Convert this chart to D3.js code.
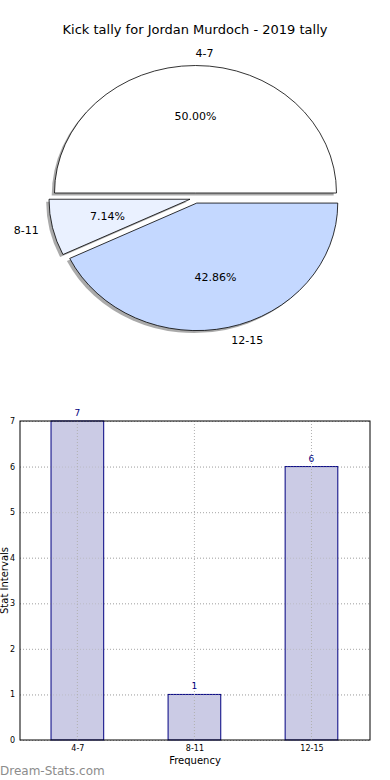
<!DOCTYPE html>
<html lang="en">
<head>
<meta charset="utf-8"/>
<title>Kick tally</title>
<script src="https://d3js.org/d3.v7.min.js"></script>
<style>
  body { margin: 0; background: #fff; }
  svg { font-family: "DejaVu Sans", sans-serif; }
  .grid line { stroke: #b0b0b0; stroke-dasharray: 1,2; }
</style>
</head>
<body>
<svg id="chart" width="390" height="780"></svg>
<script>
// data
var title = "Kick tally for Jordan Murdoch - 2019 tally";
var categories = ["4-7", "8-11", "12-15"];
var counts = [7, 1, 6];
var pieColors = ["#ffffff", "#eaf1ff", "#c4d8ff"];
var yTicks = [0, 1, 2, 3, 4, 5, 6, 7];

var svg = d3.select("#chart");

svg.append("text")
  .attr("x", 195).attr("y", 34)
  .attr("text-anchor", "middle")
  .attr("font-size", 13)
  .text(title);

//PIE
var cx = 195.5, cy = 198.1, rx = 141, ry = 127.5, explode = 0.04;
var total = d3.sum(counts);
// matplotlib style: start at 3 o'clock, counterclockwise
var pie = d3.pie().sort(null)
  .startAngle(Math.PI / 2)
  .endAngle(Math.PI / 2 - 2 * Math.PI);
var arcs = pie(counts);
var arc = d3.arc().innerRadius(0).outerRadius(1);

function offset(d, k) {
  var a = (d.startAngle + d.endAngle) / 2;
  return [Math.sin(a) * k * rx, -Math.cos(a) * k * ry];
}

var pg = svg.append("g").attr("transform", "translate(" + cx + "," + cy + ")");

// shadows first, under all wedges
pg.selectAll(".shadow")
  .data(arcs)
  .enter().append("path")
    .attr("class", "shadow")
    .attr("transform", function(d) {
      var o = offset(d, explode);
      return "translate(" + (o[0] - 2.8) + "," + (o[1] + 2.5) + ") scale(" + rx + "," + ry + ")";
    })
    .attr("d", arc)
    .attr("fill", "#555")
    .attr("opacity", 0.5);

pg.selectAll(".wedge")
  .data(arcs)
  .enter().append("path")
    .attr("class", "wedge")
    .attr("transform", function(d) {
      var o = offset(d, explode);
      return "translate(" + o[0] + "," + o[1] + ") scale(" + rx + "," + ry + ")";
    })
    .attr("d", arc)
    .attr("fill", function(d, i) { return pieColors[i]; })
    .attr("stroke", "#000")
    .attr("stroke-width", 0.8)
    .attr("vector-effect", "non-scaling-stroke");

// outer labels
pg.selectAll(".lbl")
  .data(arcs)
  .enter().append("text")
    .attr("class", "lbl")
    .attr("x", function(d) { return offset(d, explode)[0] + offset(d, 1.1)[0]; })
    .attr("y", function(d) { return offset(d, explode)[1] + offset(d, 1.1)[1]; })
    .attr("dy", "0.35em")
    .attr("font-size", 11)
    .attr("text-anchor", function(d) { return offset(d, 1)[0] > -1e-6 ? "start" : "end"; })
    .text(function(d, i) { return categories[i]; });

// percentages
pg.selectAll(".pct")
  .data(arcs)
  .enter().append("text")
    .attr("class", "pct")
    .attr("x", function(d) { return offset(d, explode)[0] + offset(d, 0.6)[0]; })
    .attr("y", function(d) { return offset(d, explode)[1] + offset(d, 0.6)[1]; })
    .attr("dy", "0.35em")
    .attr("font-size", 11)
    .attr("text-anchor", "middle")
    .text(function(d) { return (d.value / total * 100).toFixed(2) + "%"; });

//BAR CHART
var plotL = 20, plotR = 370, plotT = 421, plotB = 740;
var x = d3.scaleLinear().domain([-0.49, 2.5]).range([plotL, plotR]);
var y = d3.scaleLinear().domain([0, 7]).range([plotB, plotT]);
var bw = x(0.45) - x(0);

var grid = svg.append("g").attr("class", "grid");
grid.selectAll(".gy")
  .data(yTicks)
  .enter().append("line")
    .attr("x1", plotL).attr("x2", plotR)
    .attr("y1", function(d) { return y(d) + 0.5; })
    .attr("y2", function(d) { return y(d) + 0.5; });

svg.append("g").selectAll("rect")
  .data(counts)
  .enter().append("rect")
    .attr("x", function(d, i) { return x(i) - bw / 2; })
    .attr("y", function(d) { return y(d); })
    .attr("width", bw)
    .attr("height", function(d) { return y(0) - y(d); })
    .attr("fill", "#cbcbe5")
    .attr("stroke", "#000080")
    .attr("stroke-width", 1);

// gridlines also show through the bars
svg.append("g").attr("class", "grid").selectAll("line")
  .data(yTicks)
  .enter().append("line")
    .attr("x1", plotL).attr("x2", plotR)
    .attr("y1", function(d) { return y(d) + 0.5; })
    .attr("y2", function(d) { return y(d) + 0.5; })
    .attr("stroke-opacity", 0.6);
svg.append("g").attr("class", "grid").selectAll("line")
  .data(categories)
  .enter().append("line")
    .attr("x1", function(d, i) { return x(i); })
    .attr("x2", function(d, i) { return x(i); })
    .attr("y1", plotT).attr("y2", plotB);

svg.append("g").selectAll("text")
  .data(counts)
  .enter().append("text")
    .attr("x", function(d, i) { return x(i); })
    .attr("y", function(d) { return y(d) - 5; })
    .attr("text-anchor", "middle")
    .attr("font-size", 9)
    .attr("fill", "#000080")
    .text(function(d) { return d; });

// axes
var yAxis = svg.append("g")
  .attr("transform", "translate(" + plotL + ",0)")
  .call(d3.axisLeft(y).tickValues(yTicks).tickFormat(d3.format("d")).tickSize(0).tickPadding(5));
yAxis.select(".domain").remove();
yAxis.selectAll("text").attr("font-size", 8).attr("font-family", "DejaVu Sans, sans-serif");

var xAxis = svg.append("g")
  .attr("transform", "translate(0," + plotB + ")")
  .call(d3.axisBottom(x).tickValues([0, 1, 2]).tickSize(0).tickPadding(5)
    .tickFormat(function(d) { return categories[d]; }));
xAxis.select(".domain").remove();
xAxis.selectAll("text").attr("font-size", 8).attr("font-family", "DejaVu Sans, sans-serif");

svg.append("rect")
  .attr("x", plotL).attr("y", plotT)
  .attr("width", plotR - plotL).attr("height", plotB - plotT)
  .attr("fill", "none")
  .attr("stroke", "#000")
  .attr("stroke-width", 1);

svg.append("text")
  .attr("x", (plotL + plotR) / 2).attr("y", 764)
  .attr("text-anchor", "middle")
  .attr("font-size", 10)
  .text("Frequency");

svg.append("text")
  .attr("transform", "translate(8," + (plotT + plotB) / 2 + ") rotate(-90)")
  .attr("text-anchor", "middle")
  .attr("font-size", 10)
  .text("Stat Intervals");

svg.append("text")
  .attr("x", 0).attr("y", 775)
  .attr("font-size", 12)
  .attr("fill", "#8c8c8c")
  .text("Dream-Stats.com");
</script>
</body>
</html>
